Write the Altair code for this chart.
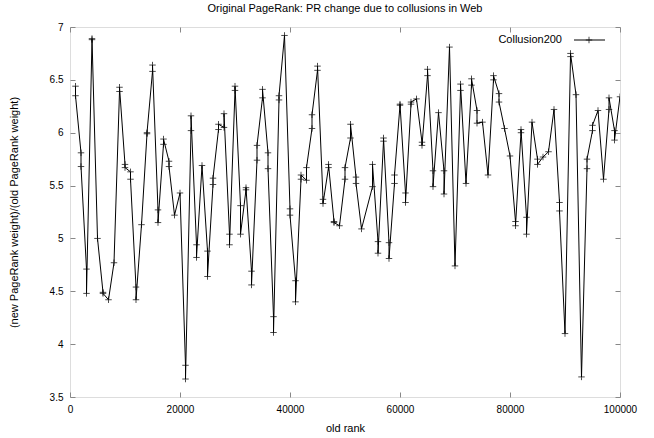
import altair as alt
import pandas as pd

# ---- data ----
ranks = [1000, 2000, 3000, 4000, 5000, 6000, 7000, 8000, 9000, 10000,
         11000, 12000, 13000, 14000, 15000, 16000, 17000, 18000, 19000, 20000,
         21000, 22000, 23000, 24000, 25000, 26000, 27000, 28000, 29000, 30000,
         31000, 32000, 33000, 34000, 35000, 36000, 37000, 38000, 39000, 40000,
         41000, 42000, 43000, 44000, 45000, 46000, 47000, 48000, 49000, 50000,
         51000, 52000, 53000, 55000, 56000, 57000, 58000, 59000, 60000,
         61000, 62000, 63000, 64000, 65000, 66000, 67000, 68000, 69000, 70000,
         71000, 72000, 73000, 74000, 75000, 76000, 77000, 78000, 79000, 80000,
         81000, 82000, 83000, 84000, 85000, 86000, 87000, 88000, 89000, 90000,
         91000, 92000, 93000, 94000, 95000, 96000, 97000, 98000, 99000, 100000]

weights = [[6.44, 6.35], [5.81, 5.68], [4.71, 4.48], [6.88, 6.89], [5.00],
           [4.49, 4.48], [4.42], [4.77], [6.39, 6.43], [5.70, 5.67],
           [5.63, 5.56], [4.54, 4.42], [5.13], [5.99, 6.00], [6.58, 6.64],
           [5.27, 5.15], [5.89, 5.94], [5.73, 5.68], [5.22], [5.43],
           [3.80, 3.67], [6.02, 6.16], [4.94, 4.82], [5.69], [4.88, 4.64],
           [5.51, 5.57], [6.03, 6.08], [6.05, 6.18], [5.04, 4.94], [6.40, 6.44],
           [5.31, 5.04], [5.46, 5.48], [4.69, 4.56], [5.74, 5.88], [6.33, 6.41],
           [5.81, 5.66], [4.26, 4.11], [6.31, 6.35], [6.92], [5.28, 5.22],
           [4.60, 4.40], [5.56, 5.60], [5.55, 5.67], [6.04, 6.17], [6.59, 6.63],
           [5.37, 5.33], [5.67, 5.70], [5.16, 5.15], [5.12], [5.56, 5.67],
           [5.95, 6.08], [5.58, 5.52], [5.09], [5.49, 5.70], [4.97, 4.86],
           [5.92, 5.95], [4.96, 4.81], [5.52, 5.60], [6.26, 6.27],
           [5.43, 5.34], [6.27, 6.29], [6.32], [5.91, 5.88], [6.54, 6.60],
           [5.64, 5.49], [6.19], [5.64, 5.42], [6.81], [4.74],
           [6.40, 6.46], [5.52], [6.45, 6.51], [6.21, 6.09], [6.10],
           [5.60], [6.50, 6.54], [6.37, 6.29], [6.04], [5.78],
           [5.16, 5.12], [6.00, 6.03], [5.20, 5.04], [6.10], [5.75, 5.70],
           [5.77], [5.82], [6.22], [5.34, 5.26], [4.10],
           [6.72, 6.75], [6.36], [3.69], [5.66, 5.75], [6.02, 6.07],
           [6.21], [5.56], [6.22, 6.33], [6.02, 5.93], [6.34]]

series_name = ["Collusion200"]
x_ticks = [0, 20000, 40000, 60000, 80000, 100000]
y_ticks = [3.5, 4, 4.5, 5, 5.5, 6, 6.5, 7]
title_text = "Original PageRank: PR change due to collusions in Web"
x_title = "old rank"
y_title = "(new PageRank weight)/(old PageRank weight)"

rows = []
i = 0
for r, ws in zip(ranks, weights):
    for w in ws:
        rows.append({"rank": r, "weight": w, "order": i, "series": series_name[0]})
        i += 1
df = pd.DataFrame(rows)
legend_df = pd.DataFrame({"series": series_name})

FONT = "Liberation Sans"
TICK = 5
PLUS = "M-1,0L1,0M0,-1L0,1"

x_scale = alt.Scale(domain=[0, 100000], nice=False, zero=False)
y_scale = alt.Scale(domain=[3.5, 7], nice=False, zero=False)

line = alt.Chart(df).mark_line(color="black", strokeWidth=1, clip=True).encode(
    x=alt.X("rank:Q", scale=x_scale,
            axis=alt.Axis(orient="bottom", values=x_ticks, format="d", title=x_title,
                          offset=-TICK, tickSize=TICK, domain=False, grid=False,
                          labelFlush=False, labelPadding=7, titlePadding=8,
                          titleFontWeight="normal")),
    y=alt.Y("weight:Q", scale=y_scale,
            axis=alt.Axis(orient="left", values=y_ticks, format=".1~f", title=y_title,
                          offset=-TICK, tickSize=TICK, domain=False, grid=False,
                          labelFlush=False, labelPadding=7, titlePadding=30,
                          titleFontWeight="normal")),
    order="order:Q",
)

points = alt.Chart(df).mark_point(shape=PLUS, size=42, color="black", strokeWidth=1,
                                  filled=False, clip=True).encode(
    x=alt.X("rank:Q", scale=x_scale,
            axis=alt.Axis(orient="top", values=x_ticks, labels=False, title=None,
                          offset=-TICK, tickSize=TICK, domain=False, grid=False)),
    y=alt.Y("weight:Q", scale=y_scale,
            axis=alt.Axis(orient="right", values=y_ticks, labels=False, title=None,
                          offset=-TICK, tickSize=TICK, domain=False, grid=False)),
)

legend_text = alt.Chart(legend_df).mark_text(align="right", baseline="middle",
                                             font=FONT, fontSize=11, color="black").encode(
    x=alt.value(492), y=alt.value(13), text="series:N")
legend_rule = alt.Chart(legend_df).mark_rule(color="black", strokeWidth=1).encode(
    x=alt.value(504), x2=alt.value(535), y=alt.value(13))
legend_pt = alt.Chart(legend_df).mark_point(shape=PLUS, size=42, color="black",
                                            strokeWidth=1, filled=False).encode(
    x=alt.value(519), y=alt.value(13))

chart = alt.layer(line, points, legend_text, legend_rule, legend_pt).resolve_axis(
    x="independent", y="independent"
).properties(
    width=550, height=370,
    title=alt.TitleParams(title_text, fontSize=11, font=FONT, fontWeight="normal",
                          anchor="middle", offset=8, color="black"),
    autosize=alt.AutoSizeParams(type="none"),
    padding={"left": 70, "top": 27, "right": 34, "bottom": 41},
).configure_view(
    stroke="black", strokeWidth=1
).configure_axis(
    labelFont=FONT, titleFont=FONT, labelFontSize=11, titleFontSize=11,
    tickColor="black", labelColor="black", titleColor="black",
    titleFontWeight="normal", tickWidth=1
).configure(background="white")

chart.save("out.html", embed_options={"renderer": "svg", "actions": False})
